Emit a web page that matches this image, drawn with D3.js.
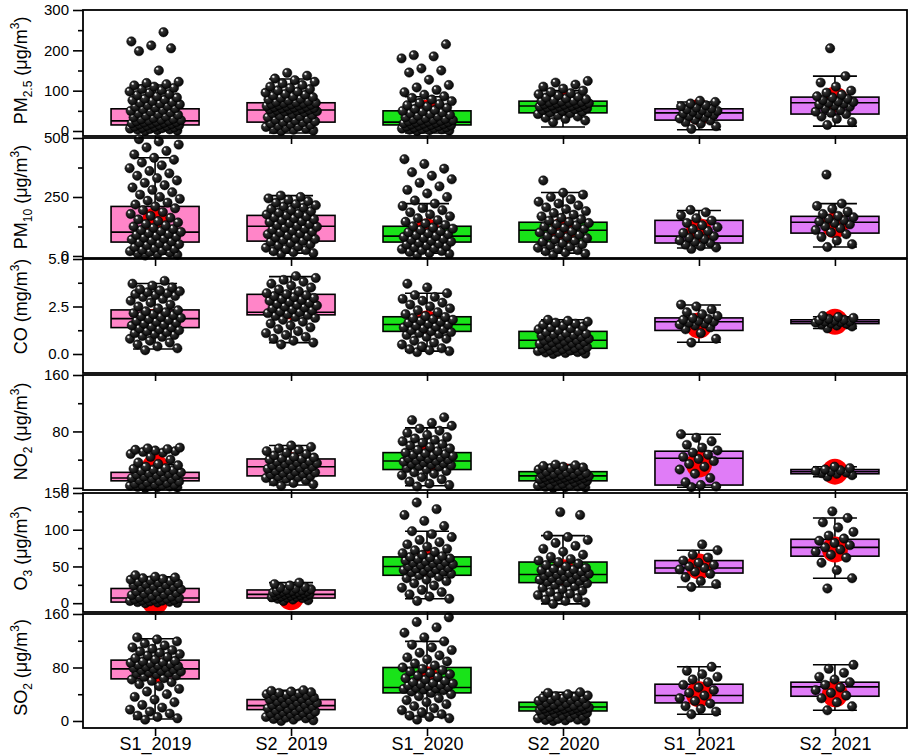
<!DOCTYPE html>
<meta charset="utf-8">
<body style="margin:0;background:#fff">
<script src="https://cdnjs.cloudflare.com/ajax/libs/d3/7.8.5/d3.min.js"></script>
<script>
var width = 913, height = 756,
    left = 83, right = 907;

var categories = ["S1_2019", "S2_2019", "S1_2020", "S2_2020", "S1_2021", "S2_2021"];
var fills = ["#ff85c8", "#ff85c8", "#19e319", "#19e319", "#e07cf7", "#e07cf7"];

// per category: [whisker low, q1, median, q3, whisker high, mean]
var pm25Stats = [[2,15,25,55,114,58],[-5,22,52,70,129,55],[-5,15,22,50,85,45],[10,45,62,74,100,67],[3,27,45,55,72,47],[12,42,70,84,136,78]];
var pm10Stats = [[8,59,101,210,416,150],[12,63,126,172,256,128],[12,59,84,126,222,104],[12,59,109,143,269,110],[34,55,84,151,193,105],[38,97,143,168,222,130]];
var coStats = [[0.26,1.39,1.86,2.32,3.71,1.7],[0.6,2.06,2.2,3.14,4.07,2.5],[0.15,1.19,1.55,1.96,3.2,1.6],[0,0.3,0.72,1.19,1.8,0.8],[0.62,1.24,1.7,1.9,2.58,1.5],[1.34,1.6,1.7,1.8,1.96,1.7]];
var no2Stats = [[1,10,14,22,33,30],[4,17,30,41,60,32],[3,26,38,50,85,42],[1,10,17,23,33,17],[1,4,42,52,76,33],[16,20,23,26,30,23]];
var o3Stats = [[0,1.5,7,20,36,2],[3,7,12,18,28,8],[6,38,50,63,98,55],[-1,28,39,56,92,42],[22,41,48,58,72,50],[34,64,76,87,116,73]];
var so2Stats = [[3,63,78,91,123,77],[4,17,23,32,46,24],[6,42,50,80,119,62],[1,15,21,28,43,21],[10,27,38,55,81,40],[16,37,51,58,84,40]];

var pm25Points = [
  [0,1,2,3,4,5,6,7,8,9,10,11,12,13,14,15,16,17,18,19,20,21,22,23,24,25,26,27,28,29,30,32,34,36,38,40,42,44,46,48,50,52,54,56,58,60,62,64,66,68,70,72,74,76,78,80,83,86,89,92,95,98,101,104,107,110,113,116,119,122,150,198,205,212,222,245],
  [0,1,3,4,6,8,10,11,13,15,17,19,21,22,24,26,28,30,32,34,36,38,40,42,44,46,48,49,50,51,52,53,54,55,56,57,58,59,60,61,62,63,64,65,66,67,68,69,70,71,72,74,76,78,80,82,84,86,88,90,92,95,98,101,104,107,110,114,118,122,126,130,137,144],
  [0,1,2,3,4,5,6,7,8,9,10,11,12,13,14,15,16,17,18,19,20,21,22,23,24,25,26,27,28,29,30,32,34,36,38,40,42,44,46,48,50,52,55,58,61,64,67,70,74,78,82,86,90,96,102,108,114,127,145,150,155,180,185,188,215],
  [22,26,30,33,36,39,42,44,46,48,50,52,54,55,56,57,58,59,60,61,62,63,64,65,66,67,68,69,70,71,72,73,74,75,77,79,81,83,85,88,91,94,97,100,105,110,115,120,124],
  [5,12,18,22,26,28,31,34,37,40,42,44,46,48,50,52,54,56,58,61,64,68,72,75],
  [15,22,30,36,42,45,48,52,56,60,63,66,68,70,72,74,77,80,83,86,90,95,100,110,120,136,205]
];
var pm10Points = [
  [2,5,8,11,14,17,20,23,26,30,34,38,42,46,50,54,58,62,66,70,74,78,82,86,90,94,98,102,106,110,115,120,125,130,136,142,148,155,162,170,178,186,194,202,210,218,226,234,242,250,260,270,280,290,300,310,320,330,340,350,360,372,384,396,408,416,430,445,460,472,485,495],
  [8,12,16,20,25,30,35,40,45,50,55,60,64,68,72,76,80,84,88,92,96,100,104,108,112,116,120,124,128,132,136,140,144,148,152,156,160,164,168,172,176,180,185,190,195,200,205,210,215,220,226,232,238,244,250,256],
  [5,9,13,17,21,25,29,33,37,41,45,49,53,57,61,65,69,73,77,81,85,89,93,97,101,106,111,116,121,126,132,138,145,152,160,168,176,185,194,203,212,222,235,250,265,280,295,310,325,340,355,370,390,410],
  [5,10,15,20,25,30,35,40,45,50,55,60,65,70,75,80,85,90,95,100,105,110,115,120,125,130,135,140,145,150,156,162,168,175,182,190,198,206,214,222,230,240,250,260,268,320],
  [30,36,42,48,55,60,66,72,78,84,90,98,106,114,122,130,140,150,160,172,185,195],
  [38,50,65,80,92,100,110,118,126,134,140,146,152,158,164,170,178,188,200,212,222,345]
];
var coPoints = [
  [0.2,0.3,0.4,0.5,0.6,0.7,0.8,0.9,0.95,1.0,1.05,1.1,1.15,1.2,1.25,1.3,1.35,1.4,1.45,1.5,1.55,1.6,1.65,1.7,1.75,1.8,1.85,1.9,1.95,2.0,2.05,2.1,2.15,2.2,2.25,2.3,2.4,2.5,2.6,2.7,2.8,2.9,3.0,3.05,3.1,3.15,3.2,3.25,3.3,3.35,3.4,3.5,3.6,3.7,3.85],
  [0.5,0.6,0.7,0.8,0.9,1.0,1.1,1.2,1.3,1.4,1.5,1.6,1.7,1.8,1.9,1.95,2.0,2.05,2.1,2.15,2.2,2.25,2.3,2.35,2.4,2.45,2.5,2.55,2.6,2.65,2.7,2.75,2.8,2.85,2.9,2.95,3.0,3.05,3.1,3.15,3.2,3.3,3.4,3.5,3.6,3.7,3.8,3.9,4.0,4.1],
  [0.1,0.15,0.2,0.25,0.3,0.4,0.5,0.6,0.7,0.8,0.9,1.0,1.05,1.1,1.15,1.2,1.25,1.3,1.35,1.4,1.45,1.5,1.55,1.6,1.65,1.7,1.75,1.8,1.85,1.9,1.95,2.0,2.1,2.2,2.3,2.4,2.5,2.6,2.7,2.8,2.9,3.0,3.1,3.2,3.5,3.7],
  [0.0,0.02,0.05,0.08,0.1,0.12,0.15,0.18,0.2,0.22,0.25,0.28,0.3,0.33,0.36,0.4,0.43,0.46,0.5,0.53,0.56,0.6,0.63,0.66,0.7,0.73,0.76,0.8,0.83,0.86,0.9,0.93,0.96,1.0,1.03,1.06,1.1,1.15,1.2,1.25,1.3,1.35,1.4,1.45,1.5,1.55,1.6,1.65,1.7,1.75,1.8],
  [0.6,0.8,1.1,1.3,1.4,1.5,1.55,1.6,1.65,1.7,1.75,1.8,1.85,1.9,2.0,2.1,2.2,2.35,2.5,2.6],
  [1.35,1.45,1.5,1.55,1.6,1.62,1.65,1.68,1.7,1.72,1.75,1.78,1.8,1.85,1.9,1.95,2.0]
];
var no2Points = [
  [0,0.5,1,1.5,2,2.5,3,3.5,4,4.5,5,6,7,8,9,10,11,12,13,14,15,16,17,18,19,20,21,22,23,24,25,26,27,28,30,32,34,36,40,44,48,50,51,52,53,54,55,56,57],
  [3,5,7,9,11,13,14,15,16,17,18,19,20,21,22,23,24,25,26,27,28,29,30,31,32,33,34,35,36,37,38,39,40,41,42,43,44,46,48,50,52,54,56,58,60],
  [2,4,6,9,12,15,18,20,22,24,26,28,30,31,32,33,34,35,36,37,38,39,40,41,42,43,44,45,46,47,48,49,50,52,54,56,58,60,62,64,66,68,70,72,75,78,81,84,88,92,96,100],
  [0,0.5,1,1.5,2,2.5,3,3.5,4,5,6,7,8,9,10,10.5,11,11.5,12,12.5,13,13.5,14,14.5,15,15.5,16,16.5,17,17.5,18,18.5,19,19.5,20,21,22,23,24,25,26,27,28,29,30,31,32,33],
  [1,2,4,8,14,20,26,30,34,38,41,44,47,50,53,57,61,66,71,76],
  [16,18,20,21,22,23,24,25,26,28,30]
];
var o3Points = [
  [0,0.5,1,1.5,2,2.5,3,3.5,4,4.5,5,5.5,6,6.5,7,7.5,8,9,10,11,12,13,14,15,16,17,18,19,20,21,22,23,24,25,26,27,28,29,30,31,32,33,34,35,36,38],
  [3,4,5,6,7,7.5,8,8.5,9,9.5,10,10.5,11,11.5,12,12.5,13,13.5,14,14.5,15,15.5,16,16.5,17,17.5,18,19,20,21,22,24,26,28],
  [3,6,9,12,15,18,21,24,27,30,32,34,36,38,40,41,42,43,44,45,46,47,48,49,50,51,52,53,54,55,56,57,58,59,60,61,62,63,64,66,68,70,72,74,77,80,83,86,90,94,98,105,112,120,128,137],
  [-1,1,3,5,7,9,11,13,15,17,19,21,23,25,27,28,29,30,31,32,33,34,35,36,37,38,39,40,41,42,43,44,45,46,47,48,50,52,54,56,58,60,63,66,70,74,78,82,86,90,92,120,124],
  [22,26,30,35,40,43,46,48,50,52,55,58,62,66,72,80],
  [20,34,45,55,62,66,70,73,76,79,82,85,88,92,97,103,110,116,125]
];
var so2Points = [
  [2,4,6,8,11,14,17,20,24,28,32,36,40,44,48,52,55,58,60,62,64,66,68,70,71,72,73,74,75,76,77,78,79,80,81,82,83,84,85,86,87,88,89,90,92,94,96,98,100,102,104,106,108,110,113,116,119,122,125],
  [0,1,2,3,4,5,6,7,8,9,10,11,12,13,14,15,16,17,18,19,20,21,22,23,24,25,26,27,28,29,30,31,32,33,34,35,36,37,38,39,40,41,42,43,44,45,46],
  [2,4,6,8,10,13,16,19,22,25,28,31,34,37,40,42,44,46,47,48,49,50,51,52,53,54,55,56,57,58,60,62,64,66,68,70,72,74,76,78,80,83,86,89,92,95,98,102,106,110,114,119,125,132,140,148,155],
  [0,0.5,1,1.5,2,3,4,5,6,7,8,9,10,11,12,13,14,15,15.5,16,16.5,17,17.5,18,18.5,19,19.5,20,20.5,21,21.5,22,22.5,23,24,25,26,27,28,29,30,31,32,33,34,35,36,37,38,40,42,43],
  [10,14,18,22,26,30,34,38,42,46,50,54,58,62,66,70,75,81],
  [16,22,28,34,38,42,46,50,54,58,62,66,72,78,84]
];

var panels = [
  {stats: pm25Stats, points: pm25Points, domain: [-12.4, 300], top: 10, bottom: 136,
   ticks: [0, 100, 200, 300], minor: [50, 150, 250], fmt: d3.format("d"), span: [0, 300],
   title: [["PM", 0], ["2.5", 1], [" (\u03bcg/m", 0], ["3", 2], [")", 0]]},
  {stats: pm10Stats, points: pm10Points, domain: [-8.5, 500], top: 138, bottom: 258,
   ticks: [0, 250, 500], minor: [125, 375], fmt: d3.format("d"), span: [0, 500],
   title: [["PM", 0], ["10", 1], [" (\u03bcg/m", 0], ["3", 2], [")", 0]]},
  {stats: coStats, points: coPoints, domain: [-1, 5], top: 259, bottom: 373,
   ticks: [0, 2.5, 5], minor: [1.25, 3.75], fmt: d3.format(".1f"), span: [0, 5],
   title: [["CO (mg/m", 0], ["3", 2], [")", 0]]},
  {stats: no2Stats, points: no2Points, domain: [-3, 160], top: 375, bottom: 490,
   ticks: [0, 80, 160], minor: [40, 120], fmt: d3.format("d"), span: [0, 160],
   title: [["NO", 0], ["2", 1], [" (\u03bcg/m", 0], ["3", 2], [")", 0]]},
  {stats: o3Stats, points: o3Points, domain: [-12, 150], top: 493, bottom: 612,
   ticks: [0, 50, 100, 150], minor: [25, 75, 125], fmt: d3.format("d"), span: [0, 150],
   title: [["O", 0], ["3", 1], [" (\u03bcg/m", 0], ["3", 2], [")", 0]]},
  {stats: so2Stats, points: so2Points, domain: [-10.5, 160], top: 614, bottom: 728,
   ticks: [0, 80, 160], minor: [40, 120], fmt: d3.format("d"), span: [0, 160],
   title: [["SO", 0], ["2", 1], [" (\u03bcg/m", 0], ["3", 2], [")", 0]]}
];

var svg = d3.select("body").append("svg")
    .attr("width", width)
    .attr("height", height)
    .style("font-family", "Arial, 'Liberation Sans', sans-serif");

var defs = svg.append("defs");
var grad = defs.append("radialGradient")
    .attr("id", "ball")
    .attr("cx", "0.45").attr("cy", "0.45").attr("r", "0.6")
    .attr("fx", "0.3").attr("fy", "0.28");
grad.append("stop").attr("offset", "0").attr("stop-color", "#fff");
grad.append("stop").attr("offset", "0.12").attr("stop-color", "#ddd");
grad.append("stop").attr("offset", "0.28").attr("stop-color", "#333");
grad.append("stop").attr("offset", "1").attr("stop-color", "#000");

var x = d3.scalePoint()
    .domain(categories)
    .range([left, right])
    .padding(0.53);

var boxW = 88, capW = 44, dotR = 4.7;

panels.forEach(function(p, pi) {
  var y = d3.scaleLinear().domain(p.domain).range([p.bottom, p.top]);
  var g = svg.append("g");

  // boxes, whiskers and the red mean marker
  p.stats.forEach(function(s, i) {
    var cx = x(categories[i]);
    var bg = g.append("g").attr("stroke", "#000").attr("stroke-width", 1.6);
    bg.append("line").attr("x1", cx).attr("x2", cx).attr("y1", y(s[0])).attr("y2", y(s[1]));
    bg.append("line").attr("x1", cx).attr("x2", cx).attr("y1", y(s[3])).attr("y2", y(s[4]));
    bg.append("line").attr("x1", cx - capW / 2).attr("x2", cx + capW / 2).attr("y1", y(s[0])).attr("y2", y(s[0]));
    bg.append("line").attr("x1", cx - capW / 2).attr("x2", cx + capW / 2).attr("y1", y(s[4])).attr("y2", y(s[4]));
    bg.append("rect")
      .attr("x", cx - boxW / 2).attr("width", boxW)
      .attr("y", y(s[3])).attr("height", Math.max(y(s[1]) - y(s[3]), 1))
      .attr("fill", fills[i]);
    bg.append("line").attr("x1", cx - boxW / 2).attr("x2", cx + boxW / 2).attr("y1", y(s[2])).attr("y2", y(s[2]));
    g.append("circle").attr("cx", cx).attr("cy", y(s[5])).attr("r", 13).attr("fill", "#f00");
  });

  // jittered points
  p.points.forEach(function(vals, i) {
    var cx = x(categories[i]);
    var spread = vals.length > 40 ? 26 : 20;
    g.append("g").selectAll("circle")
      .data(vals)
      .join("circle")
        .attr("cx", function(d, j) { return cx + (((j * 0.618034 + 0.31) % 1) - 0.5) * 2 * spread; })
        .attr("cy", function(d) { return y(d); })
        .attr("r", dotR)
        .attr("fill", "url(#ball)")
        .attr("stroke", "#000")
        .attr("stroke-width", 0.5);
  });

  // frame
  svg.append("rect")
    .attr("x", left).attr("y", p.top)
    .attr("width", right - left).attr("height", p.bottom - p.top)
    .attr("fill", "none").attr("stroke", "#000").attr("stroke-width", 1.8);

  // y axis, major and minor
  var ya = svg.append("g").attr("transform", "translate(" + left + ",0)")
    .call(d3.axisLeft(y).tickValues(p.ticks).tickSize(10).tickPadding(4).tickFormat(p.fmt));
  ya.select(".domain").remove();
  ya.selectAll("line").attr("stroke-width", 1.6);
  ya.selectAll("text").style("font-size", "15px").attr("fill", "#000");
  var ym = svg.append("g").attr("transform", "translate(" + left + ",0)")
    .call(d3.axisLeft(y).tickValues(p.minor).tickSize(5).tickFormat(""));
  ym.select(".domain").remove();
  ym.selectAll("line").attr("stroke-width", 1.6);

  // x axis ticks (labels only under the last panel)
  var last = pi === panels.length - 1;
  var xa = svg.append("g").attr("transform", "translate(0," + p.bottom + ")")
    .call(d3.axisBottom(x).tickSize(8).tickSizeOuter(0).tickPadding(1));
  xa.select(".domain").remove();
  xa.selectAll("line").attr("stroke-width", 1.6);
  if (last) {
    xa.selectAll("text").style("font-size", "18px").attr("fill", "#000");
  } else {
    xa.selectAll("text").remove();
  }

  // axis title
  var ty = (y(p.span[0]) + y(p.span[1])) / 2;
  var t = svg.append("text")
    .attr("transform", "translate(27," + ty + ") rotate(-90)")
    .attr("text-anchor", "middle")
    .style("font-size", "18px")
    .attr("fill", "#000");
  var shift = 0;
  p.title.forEach(function(part) {
    var ts = t.append("tspan").text(part[0]);
    var want = part[1] === 1 ? 5 : part[1] === 2 ? -8 : 0;
    ts.attr("dy", want - shift);
    shift = want;
    if (part[1]) ts.style("font-size", "12px");
  });
});
</script>
</body>
